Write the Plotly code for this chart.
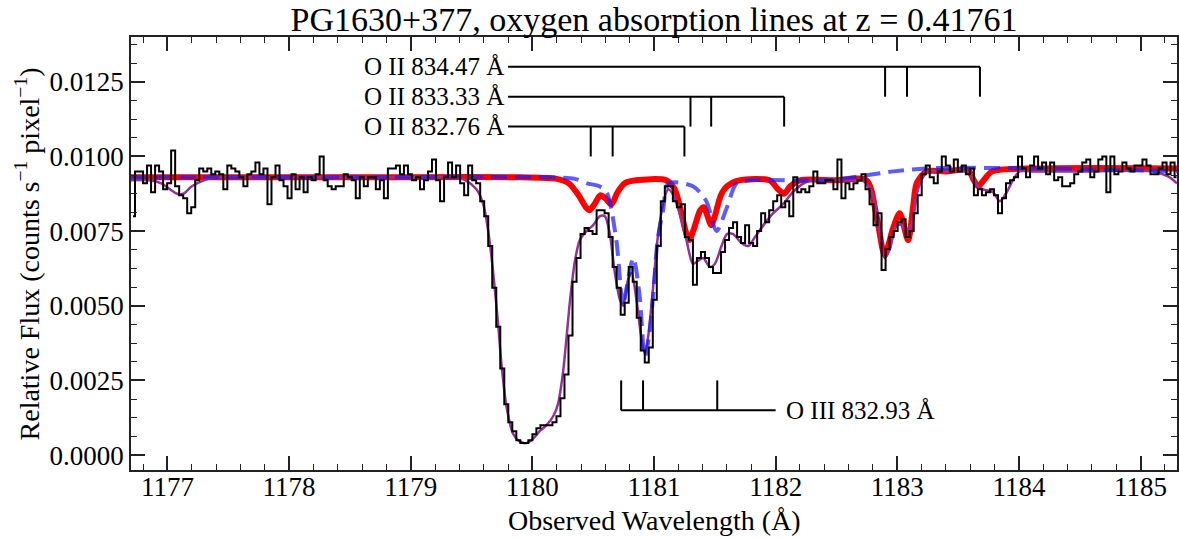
import numpy as np
import plotly.graph_objects as go

# ---------------- data ----------------
WAVE_START = 1176.70   # left edge of first bin (Angstrom)
BIN_WIDTH = 0.033      # bin width (Angstrom)

flux = [
    0.0080, 0.0095, 0.0095, 0.0091, 0.0097, 0.0088, 0.0097, 0.0095, 0.0089, 0.0091,
    0.0102, 0.0090, 0.0087, 0.0086, 0.0081, 0.0083, 0.0092, 0.0096, 0.0095, 0.0096,
    0.0094, 0.0095, 0.0094, 0.0089, 0.0097, 0.0096, 0.0095, 0.0093, 0.0090, 0.0094,
    0.0095, 0.0098, 0.0094, 0.0096, 0.0084, 0.0093, 0.0097, 0.0092, 0.0090, 0.0086,
    0.0094, 0.0089, 0.0093, 0.0088, 0.0093, 0.0092, 0.0094, 0.0100, 0.0092, 0.0090,
    0.0089, 0.0090, 0.0090, 0.0094, 0.0093, 0.0092, 0.0086, 0.0093, 0.0090, 0.0093,
    0.0093, 0.0089, 0.0092, 0.0086, 0.0096, 0.0096, 0.0097, 0.0094,
    0.0097, 0.0094, 0.0092, 0.0093, 0.0089, 0.0092, 0.0095, 0.0099, 0.0092, 0.0085,
    0.0093, 0.0098, 0.0093, 0.0097, 0.0091, 0.0087, 0.0097, 0.0092, 0.0091, 0.0085,
    0.0080, 0.0070, 0.0056, 0.0043, 0.0029, 0.0017, 0.0011, 0.0008, 0.0005, 0.0004,
    0.0004, 0.0005, 0.0007, 0.0009, 0.0010, 0.0010, 0.0010, 0.0011, 0.0013, 0.0019,
    0.0027, 0.0040, 0.0058, 0.0066, 0.0074, 0.0076, 0.0075, 0.0074, 0.0082, 0.0082,
    0.0081, 0.0073, 0.0063, 0.0056, 0.0047, 0.0051, 0.0063, 0.0058, 0.0046, 0.0035,
    0.0031, 0.0036, 0.0052, 0.0070, 0.0085, 0.0090, 0.0090,
    0.0085, 0.0083, 0.0084, 0.0073, 0.0072, 0.0057, 0.0066, 0.0068, 0.0066, 0.0063,
    0.0061, 0.0061, 0.0068, 0.0072, 0.0076, 0.0078, 0.0073, 0.0071, 0.0077, 0.0071,
    0.0070, 0.0075, 0.0081, 0.0078, 0.0082, 0.0085, 0.0087, 0.0083, 0.0085, 0.0080,
    0.0093, 0.0088, 0.0089, 0.0088, 0.0090, 0.0095, 0.0091, 0.0091, 0.0092, 0.0092,
    0.0089, 0.0099, 0.0086, 0.0091, 0.0089, 0.0091, 0.0092, 0.0094, 0.0089, 0.0084,
    0.0077, 0.0081, 0.0062, 0.0069, 0.0073, 0.0075, 0.0078, 0.0079, 0.0073, 0.0075,
    0.0081, 0.0087, 0.0094, 0.0097,
    0.0093, 0.0091, 0.0095, 0.0100, 0.0097, 0.0095, 0.0099, 0.0095, 0.0097, 0.0094,
    0.0096, 0.0087, 0.0089, 0.0087, 0.0088, 0.0089, 0.0087, 0.0081, 0.0086, 0.0091,
    0.0092, 0.0093, 0.0100, 0.0096, 0.0093, 0.0097, 0.0100, 0.0096, 0.0098, 0.0094,
    0.0098, 0.0092, 0.0093, 0.0090, 0.0090, 0.0091, 0.0094, 0.0095, 0.0098, 0.0099,
    0.0093, 0.0095, 0.0099, 0.0100, 0.0088, 0.0100, 0.0094, 0.0095, 0.0098, 0.0096,
    0.0095, 0.0097, 0.0097, 0.0099, 0.0097, 0.0094, 0.0094, 0.0096, 0.0098, 0.0094,
    0.0098, 0.0093,
]

# total model (purple)
model_wave = [1176.70, 1176.85, 1176.95, 1177.02, 1177.08, 1177.13, 1177.20, 1177.30,
              1177.40, 1177.80, 1178.40, 1179.00, 1179.35, 1179.45,
              1179.54, 1179.596, 1179.637, 1179.678, 1179.72, 1179.747, 1179.788, 1179.843,
              1179.897, 1179.952, 1180.007, 1180.06, 1180.116, 1180.171, 1180.21, 1180.25,
              1180.28, 1180.31, 1180.35, 1180.39, 1180.445, 1180.50, 1180.555, 1180.596,
              1180.637, 1180.678, 1180.72, 1180.747, 1180.788, 1180.815, 1180.856, 1180.897,
              1180.925, 1180.95, 1180.99, 1181.034, 1181.075, 1181.116, 1181.16, 1181.21,
              1181.267, 1181.32, 1181.36, 1181.404, 1181.46, 1181.50, 1181.555, 1181.60,
              1181.65, 1181.72, 1181.774, 1181.83, 1181.90, 1181.98, 1182.06, 1182.14,
              1182.23, 1182.30, 1182.50, 1182.70, 1182.747, 1182.80, 1182.856, 1182.897,
              1182.94, 1182.993, 1183.034, 1183.075, 1183.116, 1183.158, 1183.21, 1183.254,
              1183.35, 1183.55, 1183.60, 1183.665, 1183.706, 1183.788, 1183.843, 1183.90,
              1183.95, 1184.007, 1184.10, 1184.60, 1185.10, 1185.185, 1185.24, 1185.30]
model_flux = [0.0092, 0.0092, 0.0091, 0.0089, 0.00875, 0.00875, 0.0090, 0.0092,
              0.0093, 0.0093, 0.0093, 0.0093, 0.0093, 0.0092,
              0.0089, 0.0084, 0.0075, 0.0061, 0.0043, 0.0030, 0.0016, 0.0007,
              0.00045, 0.0004, 0.00055, 0.0008, 0.0010, 0.0013, 0.0017, 0.0027,
              0.0039, 0.0052, 0.0065, 0.0072, 0.0075, 0.0077, 0.0080, 0.0080,
              0.0074, 0.0061, 0.0052, 0.0050, 0.0059, 0.0061, 0.0052, 0.0039,
              0.0034, 0.0039, 0.0055, 0.0074, 0.0084, 0.0089, 0.0087, 0.0081,
              0.0072, 0.0064, 0.0065, 0.0066, 0.0063, 0.0064, 0.0070, 0.0074,
              0.0074, 0.0071, 0.0070, 0.0073, 0.0077, 0.0081, 0.0084, 0.0088,
              0.0091, 0.0092, 0.0092, 0.0092, 0.0091, 0.0087, 0.0075, 0.0066,
              0.0069, 0.0077, 0.0077, 0.0075, 0.0077, 0.0087, 0.0093, 0.0095,
              0.0095, 0.0095, 0.0094, 0.0090, 0.0089, 0.0088, 0.0085, 0.0088,
              0.0092, 0.0095, 0.0095, 0.0095, 0.0095, 0.0094, 0.0093, 0.0091]

# O II model (red)
oii_wave = [1176.70, 1178.50, 1179.90, 1180.20, 1180.30, 1180.38, 1180.44, 1180.47, 1180.51,
            1180.56, 1180.60, 1180.65, 1180.70, 1180.76, 1180.85, 1181.10, 1181.17,
            1181.22, 1181.26, 1181.29, 1181.33, 1181.38, 1181.41, 1181.44, 1181.47,
            1181.50, 1181.55, 1181.60, 1181.70, 1181.95, 1182.02, 1182.07, 1182.12,
            1182.20, 1182.50, 1182.747, 1182.83, 1182.897, 1182.966, 1183.02, 1183.089, 1183.13,
            1183.16, 1183.24, 1183.40, 1183.58, 1183.63, 1183.665, 1183.71, 1183.78, 1184.20,
            1185.30]
oii_flux = [0.0093, 0.0093, 0.0093, 0.00925, 0.0091, 0.0087, 0.0083, 0.0082, 0.0084,
            0.0087, 0.0086, 0.0084, 0.0088, 0.0091, 0.0092, 0.0092, 0.0089,
            0.0082, 0.0075, 0.0072, 0.0076, 0.0082, 0.0083, 0.0080, 0.0077,
            0.0080, 0.0087, 0.0090, 0.0092, 0.0092, 0.0089, 0.00875, 0.0090,
            0.0092, 0.0092, 0.0092, 0.0080, 0.0067, 0.0076, 0.0081, 0.0072, 0.0083,
            0.0091, 0.0095, 0.0095, 0.00955, 0.0092, 0.0090, 0.0092, 0.0095, 0.0096,
            0.0096]

# O III model (blue dashed)
oiii_wave = [1176.70, 1178.50, 1180.20, 1180.35, 1180.45, 1180.55, 1180.61, 1180.69, 1180.73,
             1180.745, 1180.77, 1180.83, 1180.88, 1180.925, 1180.96, 1180.99, 1181.03,
             1181.075, 1181.12, 1181.32, 1181.43, 1181.514, 1181.60, 1181.68, 1181.80,
             1182.42, 1182.97, 1183.24, 1184.20, 1185.30]
oiii_flux = [0.0093, 0.0093, 0.0093, 0.00925, 0.0091, 0.0090, 0.0088, 0.0072, 0.0054,
             0.0050, 0.0055, 0.0066, 0.0054, 0.0033, 0.0040, 0.0052, 0.0072,
             0.0082, 0.0091, 0.0090, 0.0085, 0.0075, 0.0083, 0.0091, 0.0092,
             0.0092, 0.0095, 0.0096, 0.0096, 0.0095]

# line identification markers
oii_labels = ["O II 832.76 Å", "O II 833.33 Å", "O II 834.47 Å"]
oii_levels = [0.011, 0.012, 0.013]
oii_components = [[1180.48, 1180.66, 1181.25],
                  [1181.30, 1181.47, 1182.07],
                  [1182.90, 1183.08, 1183.68]]
oii_line_start = 1179.8
oii_tick_depth = 0.001

oiii_label = "O III 832.93 Å"
oiii_level = 0.0015
oiii_components = [1180.73, 1180.91, 1181.52]
oiii_line_end = 1182.0
oiii_tick_height = 0.001

x_range = [1176.70, 1185.30]
y_range = [-0.0005, 0.0140]

# ---------------- figure ----------------
FONT = "Liberation Serif"
wave = WAVE_START + BIN_WIDTH * (np.arange(len(flux)) + 0.5)

fig = go.Figure()

fig.add_trace(go.Scatter(x=oii_wave, y=oii_flux, mode="lines", line_shape="spline",
                         line=dict(color="rgb(255,0,0)", width=6, smoothing=0.8),
                         hoverinfo="skip"))
fig.add_trace(go.Scatter(x=model_wave, y=model_flux, mode="lines", line_shape="spline",
                         line=dict(color="rgb(150,50,150)", width=2.5, smoothing=0.8),
                         hoverinfo="skip"))
fig.add_trace(go.Scatter(x=oiii_wave, y=oiii_flux, mode="lines", line_shape="spline",
                         line=dict(color="rgba(30,30,255,0.72)", width=4, dash="16px,8px",
                                   smoothing=0.8),
                         hoverinfo="skip"))
fig.add_trace(go.Scatter(x=wave, y=flux, mode="lines", line_shape="hvh",
                         line=dict(color="black", width=2), hoverinfo="skip"))

# marker lines
mx, my = [], []
for lvl, comps in zip(oii_levels, oii_components):
    mx += [oii_line_start, comps[-1], None]
    my += [lvl, lvl, None]
    for c in comps:
        mx += [c, c, None]
        my += [lvl, lvl - oii_tick_depth, None]
mx += [oiii_components[0], oiii_line_end, None]
my += [oiii_level, oiii_level, None]
for c in oiii_components:
    mx += [c, c, None]
    my += [oiii_level, oiii_level + oiii_tick_height, None]
fig.add_trace(go.Scatter(x=mx, y=my, mode="lines", line=dict(color="black", width=2),
                         hoverinfo="skip"))

for lab, lvl in zip(oii_labels, oii_levels):
    fig.add_annotation(x=oii_line_start, y=lvl, xref="x", yref="y", text=lab,
                       showarrow=False, xanchor="right", yanchor="middle", xshift=-2,
                       font=dict(family=FONT, size=25, color="black"))
fig.add_annotation(x=oiii_line_end, y=oiii_level, xref="x", yref="y", text=oiii_label,
                   showarrow=False, xanchor="left", yanchor="middle", xshift=8,
                   font=dict(family=FONT, size=25, color="black"))

# axis titles
fig.add_annotation(x=0.5, y=-0.117, xref="paper", yref="paper",
                   text="Observed Wavelength (Å)", showarrow=False,
                   xanchor="center", yanchor="middle",
                   font=dict(family=FONT, size=28, color="black"))
fig.add_annotation(x=-0.0985, y=0.5, xref="paper", yref="paper",
                   text="Relative Flux (counts s<sup>−1</sup> pixel<sup>−1</sup>)",
                   showarrow=False, textangle=-90, xanchor="center", yanchor="middle",
                   font=dict(family=FONT, size=28, color="black"))

axis_common = dict(showline=True, linecolor="#222", linewidth=1.5, mirror="allticks",
                   ticks="inside", ticklen=14, tickwidth=1.5, tickcolor="#222",
                   showgrid=False, zeroline=False, automargin=False,
                   tickfont=dict(family=FONT, size=27, color="black"))

fig.update_xaxes(range=x_range, dtick=1, tick0=1177, ticklabelstandoff=-8,
                 minor=dict(ticks="inside", ticklen=6, tickwidth=1.2, dtick=0.2,
                            tickcolor="#222", showgrid=False),
                 **axis_common)
fig.update_yaxes(range=y_range, dtick=0.0025, tick0=0, tickformat=".4f",
                 minor=dict(ticks="inside", ticklen=6, tickwidth=1.2, dtick=0.000625,
                            tickcolor="#222", showgrid=False),
                 **axis_common)

fig.update_layout(
    width=1179, height=538,
    margin=dict(l=131, r=2, t=37, b=68, autoexpand=False),
    paper_bgcolor="white", plot_bgcolor="white",
    showlegend=False,
    title=dict(text="PG1630+377, oxygen absorption lines at z = 0.41761",
               x=0.5, xref="paper", xanchor="center",
               y=0.965, yref="container", yanchor="middle",
               font=dict(family=FONT, size=34, color="black")),
)

fig.write_html("out.html", config={"displayModeBar": False},
               post_script="document.body.style.margin='0px';document.body.style.overflow='hidden';")
